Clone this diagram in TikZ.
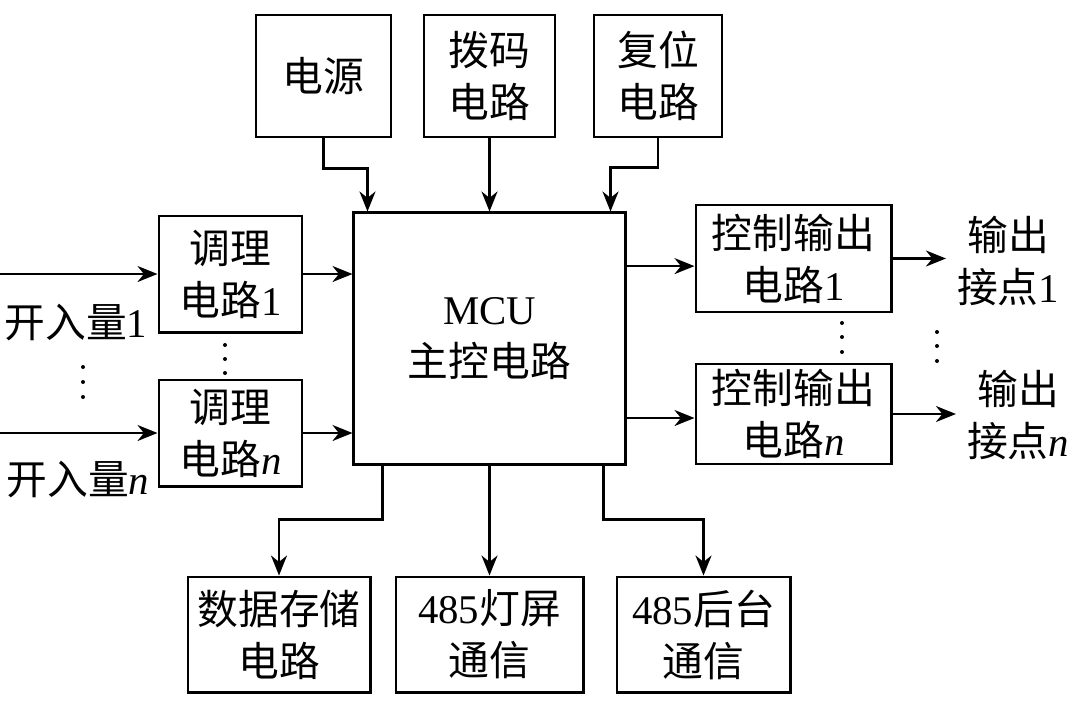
\documentclass[tikz,border=0pt]{standalone}
\usepackage{fontspec}
\setmainfont{Liberation Serif}
\newfontfamily\cjk{Noto Sans CJK SC}
\usetikzlibrary{arrows.meta}

\begin{document}
\begin{tikzpicture}[x=0.025cm,y=-0.025cm,
		blk/.style={draw,line width=2.1pt,inner sep=0pt,align=center,font=\fontsize{29}{37}\selectfont},
		lbl/.style={inner sep=0.27cm,align=center,font=\fontsize{29}{37}\selectfont},
		arr/.style={line width=1.6pt,-{Stealth[length=0.5cm,width=0.4cm,inset=0.16cm]}}]
		\useasboundingbox (0,0) rectangle (1080,706);
		\node[blk,minimum width=3.375cm,minimum height=3.05cm] (pwr) at (323.5,76){\cjk 电源};
		\node[blk,minimum width=3.275cm,minimum height=3.05cm] (dip) at (489.5,76){{\cjk 拨码}\\{\cjk 电路}};
		\node[blk,minimum width=3.2cm,minimum height=3.05cm] (rst) at (658,76){{\cjk 复位}\\{\cjk 电路}};
		\node[blk,minimum width=6.775cm,minimum height=6.275cm] (mcu) at (489.5,338.5){MCU\\{\cjk 主控电路}};
		\node[blk,minimum width=3.575cm,minimum height=2.9cm] (cond1) at (230.5,274){{\cjk 调理}\\{\cjk 电路}1};
		\node[blk,minimum width=3.575cm,minimum height=2.65cm] (condn) at (230.5,433){{\cjk 调理}\\{\cjk 电路}\textit{n}};
		\node[blk,minimum width=4.875cm,minimum height=2.675cm] (ctl1) at (793.5,258.5){{\cjk 控制输出}\\{\cjk 电路}1};
		\node[blk,minimum width=4.875cm,minimum height=2.5cm] (ctln) at (793.5,414){{\cjk 控制输出}\\{\cjk 电路}\textit{n}};
		\node[blk,minimum width=4.55cm,minimum height=2.875cm] (mem) at (279,634.5){{\cjk 数据存储}\\{\cjk 电路}};
		\node[blk,minimum width=4.675cm,minimum height=2.875cm] (led) at (489.5,634.5){485{\cjk 灯屏}\\{\cjk 通信}};
		\node[blk,minimum width=4.325cm,minimum height=2.875cm] (host) at (703.5,634.5){485{\cjk 后台}\\{\cjk 通信}};
		\node[lbl] (in1) at (76,323){{\cjk 开入量}1};
		\node[lbl] (inn) at (78,480){{\cjk 开入量}\textit{n}};
		\node[lbl] (out1) at (1008,261){{\cjk 输出}\\{\cjk 接点}1};
		\node[lbl] (outn) at (1018,415){{\cjk 输出}\\{\cjk 接点}\textit{n}};
		\coordinate (s1) at (0,274);
		\coordinate (sn) at (0,433);
		\coordinate (c1) at ([yshift=-0.19cm]ctl1.west);
		\coordinate (cn) at ([yshift=-0.1cm]ctln.west);
		\draw[arr] (pwr.south) -- ++(0,30) -| ([xshift=0.375cm]mcu.north west);
		\draw[arr] (dip) -- (mcu);
		\draw[arr] (rst.south) -- ++(0,29) -| ([xshift=-0.4cm]mcu.north east);
		\draw[arr] (s1) -- (cond1.west);
		\draw[arr] (sn) -- (condn.west);
		\draw[arr] (cond1.east) -- (cond1.east -| mcu.west);
		\draw[arr] (condn.east) -- (condn.east -| mcu.west);
		\draw[arr] (c1 -| mcu.east) -- (c1);
		\draw[arr] (cn -| mcu.east) -- (cn);
		\draw[arr] (ctl1.east) -- (ctl1.east -| out1.west);
		\draw[arr] (ctln.east) -- (ctln.east -| outn.west);
		\draw[arr] ([xshift=0.75cm]mcu.south west) -- ++(0,54) -| (mem.north);
		\draw[arr] (mcu) -- (led);
		\draw[arr] ([xshift=-0.575cm]mcu.south east) -- ++(0,54) -| (host.north);
		\foreach \y in {367,382,397} \fill (83,\y) circle (0.05cm);
		\foreach \y in {345,359,373} \fill (225,\y) circle (0.05cm);
		\foreach \y in {323,337,352} \fill (842,\y) circle (0.05cm);
		\foreach \y in {332,346,361} \fill (937,\y) circle (0.05cm);
	\end{tikzpicture}
\end{document}
